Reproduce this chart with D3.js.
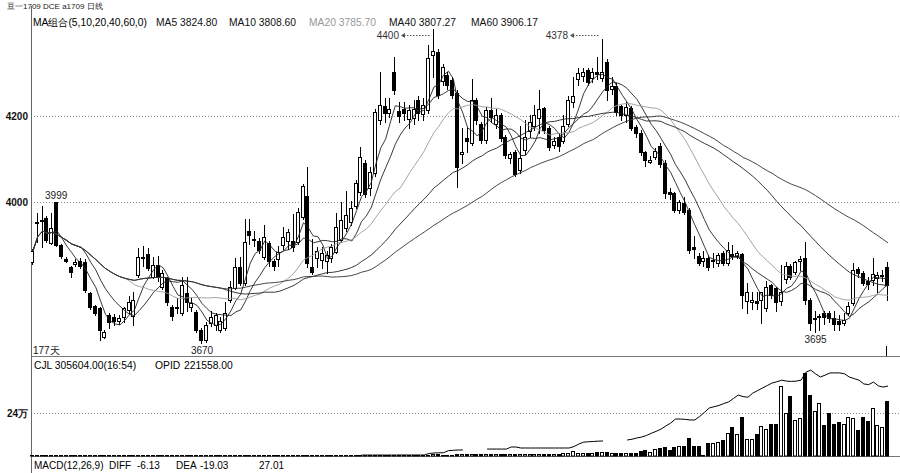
<!DOCTYPE html>
<html><head><meta charset="utf-8">
<script src="https://cdn.jsdelivr.net/npm/d3@7/dist/d3.min.js"></script>
<style>
body{margin:0;background:#fff;}
svg{display:block;font-family:"Liberation Sans",Arial,sans-serif;}
</style></head><body>
<svg id="c" width="900" height="473"></svg>
<script>
// ---------------- DATA ----------------
const opens=[3860,3950,3957,3961,3903,3999,3898,3866,3847,3855,
3862,3860,3787,3756,3751,3686,3735,3730,3720,3731,
3747,3733,3829,3870,3877,3825,3853,3801,3821,3755,
3755,3740,3787,3755,3743,3700,3677,3716,3712,3700,
3705,3771,3798,3847,3810,3930,3912,3908,3870,3903,
3862,3865,3898,3907,3907,3906,3964,4012,3848,3868,
3864,3862,3868,3883,3910,3938,3952,3989,4020,4088,
4031,4065,4190,4222,4205,4300,4210,4215,4190,4195,
4235,4205,4212,4340,4348,4280,4293,4282,4252,4110,
4147,4135,4235,4180,4142,4212,4180,4200,4149,4100,
4115,4073,4120,4165,4175,4195,4216,4170,4130,4150,
4140,4180,4230,4283,4290,4305,4285,4300,4287,4323,
4262,4268,4221,4200,4216,4172,4158,4114,4093,4103,
4128,4089,4022,4019,3979,3995,3979,3893,3873,3860,
3868,3860,3857,3880,3857,3878,3874,3877,3770,3765,
3768,3770,3751,3805,3798,3770,3820,3850,3835,3862,
3868,3770,3725,3730,3740,3740,3728,3722,3718,3740,
3763,3843,3833,3815,3815,3820,3825,3847];
const highs=[3890,3972,3990,3965,3972,3999,3900,3870,3850,3865,
3868,3865,3790,3760,3755,3700,3740,3738,3735,3755,
3780,3790,3892,3895,3892,3870,3873,3840,3825,3760,
3775,3824,3825,3775,3748,3705,3720,3745,3740,3730,
3765,3815,3867,3870,3958,3960,3930,3915,3944,3908,
3866,3895,3940,3935,3970,3985,4040,4080,3913,3893,
3893,3885,3900,3972,3999,4023,4000,4050,4127,4095,
4080,4215,4300,4240,4240,4335,4230,4230,4225,4235,
4245,4240,4363,4400,4355,4320,4300,4290,4260,4170,
4170,4285,4240,4185,4220,4240,4215,4205,4155,4115,
4120,4175,4190,4200,4225,4260,4220,4175,4150,4160,
4200,4245,4290,4310,4310,4310,4310,4335,4378,4330,
4290,4275,4225,4230,4222,4178,4165,4118,4105,4125,
4135,4095,4030,4022,4002,4010,3985,3920,3880,3885,
3876,3880,3880,3885,3905,3898,3885,3880,3810,3790,
3790,3790,3815,3808,3800,3852,3860,3855,3862,3872,
3905,3775,3745,3738,3745,3745,3745,3735,3740,3765,
3856,3848,3838,3825,3868,3835,3840,3860];
const lows=[3855,3905,3893,3905,3900,3895,3868,3858,3824,3850,
3845,3790,3750,3735,3677,3682,3705,3712,3715,3720,
3740,3712,3825,3850,3840,3822,3815,3795,3760,3725,
3740,3735,3745,3745,3695,3670,3672,3710,3700,3695,
3700,3765,3795,3805,3805,3900,3895,3880,3865,3850,
3840,3850,3890,3890,3885,3900,3960,3848,3830,3847,
3845,3834,3860,3880,3905,3930,3945,3985,4015,4010,
4015,4060,4180,4185,4195,4250,4185,4190,4170,4180,
4190,4190,4205,4290,4240,4270,4262,4240,4033,4090,
4115,4130,4180,4135,4135,4185,4170,4140,4100,4090,
4058,4065,4110,4150,4165,4160,4160,4120,4125,4118,
4135,4175,4220,4270,4280,4270,4278,4285,4280,4235,
4250,4200,4190,4185,4165,4150,4108,4082,4088,4098,
4080,4008,4005,3975,3972,3970,3880,3868,3852,3850,
3840,3848,3850,3852,3852,3865,3868,3752,3740,3750,
3750,3716,3745,3775,3745,3760,3810,3820,3830,3840,
3762,3700,3695,3700,3715,3720,3700,3700,3712,3735,
3758,3825,3805,3795,3805,3790,3815,3770];
const closes=[3885,3952,3955,3910,3937,3898,3872,3862,3835,3860,
3850,3795,3754,3740,3700,3697,3718,3720,3728,3752,
3765,3770,3871,3868,3845,3852,3825,3834,3766,3733,
3752,3805,3766,3764,3700,3676,3712,3731,3735,3722,
3740,3801,3847,3810,3905,3921,3910,3887,3917,3860,
3850,3882,3917,3929,3894,3976,4035,3857,3836,3884,
3880,3875,3893,3941,3956,3968,3985,4042,4102,4017,
4069,4208,4225,4205,4215,4258,4198,4205,4212,4215,
4205,4225,4333,4350,4247,4313,4270,4247,4080,4115,
4140,4235,4189,4142,4212,4195,4200,4147,4108,4110,
4065,4101,4150,4185,4200,4215,4165,4126,4140,4130,
4175,4235,4245,4298,4300,4278,4300,4295,4301,4258,
4268,4207,4200,4219,4170,4158,4114,4096,4097,4117,
4086,4019,4018,3979,3998,3975,3886,3889,3857,3868,
3847,3863,3875,3857,3887,3873,3880,3782,3790,3770,
3763,3788,3800,3782,3766,3790,3850,3825,3858,3866,
3770,3716,3728,3733,3730,3728,3715,3716,3725,3756,
3840,3833,3810,3808,3830,3828,3828,3805];
const volumes=[1500,1800,2000,1600,1700,2200,1500,1200,1400,1300,
1200,1800,2000,1700,2500,1600,1400,1300,1200,1500,
1600,1900,2800,2000,2200,1800,1900,1700,2300,2000,
1500,2400,2100,1600,2600,3000,2500,1800,1900,1700,
2500,3000,3500,3200,4200,3500,3000,3100,3800,3600,
3000,3200,3500,3400,3900,4200,5000,6500,4500,3800,
3500,3600,3700,4000,4500,4600,4300,5200,6000,5500,
5000,7000,6500,5500,5200,6800,5600,5200,5400,5800,
6000,6200,8000,9500,8800,7000,7500,8000,12000,9000,
9000,11000,9500,10000,10500,9000,9500,11000,10000,12000,
12500,11000,10500,11000,12000,13000,12000,13000,11000,12000,
14000,16000,28000,17000,16000,18000,17000,20000,22000,22000,
16000,18000,15000,17000,15000,15000,28000,33000,24000,37000,
46000,51000,33000,51000,55000,55000,101000,55000,55000,8000,
70000,70000,78000,89000,126000,160000,120000,214000,94000,94000,
120000,166000,148000,177000,177000,388000,238000,332000,200000,210000,
460000,338000,250000,294000,172000,238000,177000,190000,177000,218000,
210000,144000,216000,194000,266000,172000,160000,305604];
const N=null;
const openInterest=[N,N,N,N,N,N,N,N,N,N, N,N,N,N,N,N,N,N,N,N,
N,N,N,N,N,N,N,N,N,N, N,N,N,N,N,N,N,N,N,N,
N,N,N,N,N,N,N,N,N,N, N,N,N,N,N,N,N,N,N,N,
N,N,N,N,N,N,N,N,3000,3000,
3000,3000,3000,3000,3000,3000,3200,3200,3200,3200,
3200,3200,8000,9500,10000,10500,17000,18000,19000,19000,
N,N,N,N,22000,22000,22000,22000,22000,28500,
28500,25300,25300,25300,25300,25300,25300,25300,25300,25300,
25300,25300,30000,38000,44000,45000,46000,47000,47500,N,
N,N,N,50600,53000,57000,60000,65000,72000,78000,
85000,95000,104000,117000,117000,116000,114000,114000,125000,138000,
152000,156000,160000,166000,171000,182000,193000,188000,186000,199000,
207000,215000,223000,231000,235000,240000,237000,236000,237000,240000,
265000,272000,260000,250000,256000,263000,263000,263000,260000,250000,
245000,240000,228000,226000,234000,222000,218000,221558];
const maPeriods=[5,10,20,40,60];
const maColors=["#222","#222","#999","#222","#333"];
const maLegendNames=["MA5","MA10","MA20","MA40","MA60"];
const maLegendValues=["3824.80","3808.60","3785.70","3807.27","3906.17"];
const priceTicks=[4000,4200];
const volTicks=[240000];
const volTickLabels=["24万"];
const titleText="豆一1709 DCE  a1709 日线";
const maGroupText="MA组合(5,10,20,40,60,0)";
const daysText="177天";
const volLabels=["CJL  305604.00(16:54)","OPID","221558.00"];
const macdLabels=["MACD(12,26,9)","DIFF","-6.13","DEA","-19.03","27.01"];

// ---------------- LAYOUT ----------------
const svg=d3.select("#c");
const W=900,H=473, left=31;
const n=closes.length;
const x=d3.scaleLinear().domain([0,n-1]).range([33,888]);
const y=d3.scaleLinear().domain([4000,4200]).range([201.3,115.3]);
const yV=d3.scaleLinear().domain([0,240000]).range([456,412.7]);
const yOI=d3.scaleLinear().domain([0,221558]).range([456,386]);
const mainBottom=356, volBottom=456;
const cr=v=>Math.round(v)+0.5;

svg.append("defs").append("clipPath").attr("id","mainClip")
  .append("rect").attr("x",left).attr("y",0).attr("width",W-left).attr("height",mainBottom);

// grid lines via axes
const gridP=svg.append("g").attr("transform",`translate(${left},0)`)
  .call(d3.axisLeft(y).tickValues(priceTicks).tickSize(-(W-left)).tickFormat(d3.format("d")).tickPadding(3));
const gridV=svg.append("g").attr("transform",`translate(${left},0)`)
  .call(d3.axisLeft(yV).tickValues(volTicks).tickSize(-(W-left)).tickFormat((d,i)=>volTickLabels[i]).tickPadding(3));
[gridP,gridV].forEach(g=>{
  g.select(".domain").remove();
  g.selectAll(".tick line").attr("stroke","#8a8a8a").attr("stroke-dasharray","1,2");
  g.selectAll(".tick").attr("transform",function(){
    const t=d3.select(this).attr("transform");
    const m=/translate\(([^,]+),([^)]+)\)/.exec(t);
    return `translate(0,${Math.round(+m[2])+0.5})`;
  });
  g.selectAll(".tick text").attr("font-size",10).attr("font-weight","bold")
    .attr("fill","#111").attr("font-family","'Liberation Sans',Arial,sans-serif");
});

// panel frame
svg.append("line").attr("x1",left+0.5).attr("x2",left+0.5).attr("y1",6).attr("y2",H)
  .attr("stroke","#666").attr("stroke-width",1);
[mainBottom,volBottom].forEach(v=>svg.append("line").attr("x1",left).attr("x2",W)
  .attr("y1",v+0.5).attr("y2",v+0.5).attr("stroke","#777").attr("stroke-width",1));

// ---------------- CANDLES ----------------
const idx=d3.range(n);
const gC=svg.append("g").attr("clip-path","url(#mainClip)");
gC.selectAll("line.wick").data(idx).join("line").attr("class","wick")
  .attr("x1",i=>Math.round(x(i))-0.5).attr("x2",i=>Math.round(x(i))-0.5)
  .attr("y1",i=>Math.round(y(highs[i]))).attr("y2",i=>Math.round(y(lows[i]))+1)
  .attr("stroke","#000").attr("stroke-width",1);
gC.selectAll("rect.body").data(idx).join("rect").attr("class","body")
  .attr("x",i=>Math.round(x(i))-2.5).attr("width",3)
  .attr("y",i=>cr(y(Math.max(opens[i],closes[i]))))
  .attr("height",i=>Math.max(1,Math.round(Math.abs(y(opens[i])-y(closes[i])))))
  .attr("fill",i=>closes[i]>=opens[i]?"#fff":"#000")
  .attr("stroke","#000").attr("stroke-width",1);

// ---------------- MOVING AVERAGES ----------------
function movingAvg(p){
  return closes.map((c,i)=>d3.mean(closes.slice(Math.max(0,i-p+1),i+1)));
}
maPeriods.forEach((p,k)=>{
  const vals=movingAvg(p);
  gC.append("path").datum(vals)
    .attr("d",d3.line().x((d,i)=>x(i)).y(d=>y(d)))
    .attr("fill","none").attr("stroke",maColors[k]).attr("stroke-width",0.9);
});

// ---------------- VOLUME ----------------
const gV=svg.append("g");
gV.selectAll("rect").data(idx).join("rect")
  .attr("x",i=>Math.round(x(i))-2.5).attr("width",3)
  .attr("y",i=>cr(Math.min(yV(volumes[i]),volBottom-1)))
  .attr("height",i=>Math.max(0,volBottom-cr(Math.min(yV(volumes[i]),volBottom-1))))
  .attr("fill",i=>closes[i]>=opens[i]?"#fff":"#000")
  .attr("stroke","#000").attr("stroke-width",1);
gV.append("path").datum(openInterest)
  .attr("d",d3.line().defined(d=>d!==null).x((d,i)=>x(i)).y(d=>yOI(d)))
  .attr("fill","none").attr("stroke","#000").attr("stroke-width",1);

// cursor line at last bar
const lastX=Math.round(x(n-1))-1.5;
svg.append("line").attr("x1",lastX).attr("x2",lastX).attr("y1",346).attr("y2",mainBottom)
  .attr("stroke","#000").attr("stroke-width",1);

// ---------------- TEXT ----------------
const txt=(s,xx,yy,opt={})=>svg.append("text").attr("x",xx).attr("y",yy).text(s)
  .attr("font-size",opt.size||10.5).attr("fill",opt.fill||"#000")
  .attr("text-anchor",opt.anchor||"start").attr("font-weight",opt.weight||"normal");

txt(titleText,7,8.5,{size:8,fill:"#222"});
txt(maGroupText,33,25.5,{size:10.3});
const legX=[156,229,309,389,471];
maLegendNames.forEach((nm,k)=>txt(nm+" "+maLegendValues[k],legX[k],25.5,{size:10.3,fill:k===2?"#999":"#111"}));

// high / low annotations
function extremeIdx(arr,from,to,fn){let b=from;for(let i=from;i<=to;i++){if(fn(arr[i],arr[b]))b=i;}return b;}
const hi1=extremeIdx(highs,60,100,(a,b)=>a>b);
const hi2=extremeIdx(highs,100,140,(a,b)=>a>b);
[hi1,hi2].forEach(i=>{
  const xe=Math.round(x(i))-3, yl=35.5;
  svg.append("line").attr("x1",xe-27).attr("x2",xe).attr("y1",yl).attr("y2",yl)
    .attr("stroke","#555").attr("stroke-dasharray","1.5,1.5");
  svg.append("path").attr("d",`M${xe-30},${yl} l4,-2.5 l0,5 z`).attr("fill","#555");
  txt(d3.format("d")(highs[i]),xe-32,39,{size:10,anchor:"end",fill:"#333"});
});
const hi0=extremeIdx(highs,0,20,(a,b)=>a>b);
txt(d3.format("d")(highs[hi0]),x(hi0)-1,y(highs[hi0])-3,{size:10,anchor:"middle",fill:"#222"});
const lo1=extremeIdx(lows,20,60,(a,b)=>a<b);
const lo2=extremeIdx(lows,150,177,(a,b)=>a<b);
[lo1,lo2].forEach(i=>txt(d3.format("d")(lows[i]),x(i),y(lows[i])+11,{size:10,anchor:"middle",fill:"#222"}));
txt(daysText,33,354,{size:10,fill:"#111"});

txt(volLabels[0],34,368.5,{size:10.3});
txt(volLabels[1],155,368.5,{size:10.3});
txt(volLabels[2],184,368.5,{size:10.3});
const macdX=[34,109,137,176,200,259];
macdLabels.forEach((s,k)=>txt(s,macdX[k],468.5,{size:10}));
</script>
</body></html>
